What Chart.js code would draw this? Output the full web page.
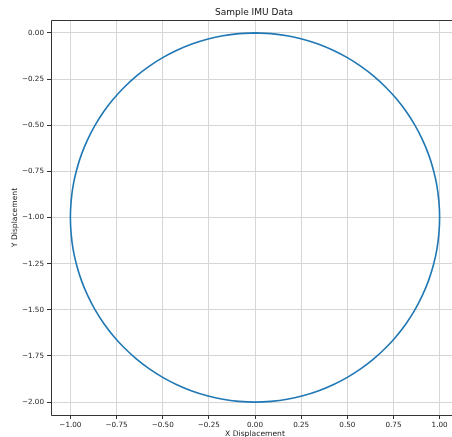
<!DOCTYPE html>
<html><head><meta charset="utf-8">
<script src="https://cdn.jsdelivr.net/npm/chart.js@4/dist/chart.umd.min.js"></script>
<style>
html,body{margin:0;padding:0;background:#fff;overflow:hidden;}
#wrap{width:470px;height:437px;position:relative;}
</style>
</head><body><div id="wrap"><canvas id="c"></canvas></div>
<script>
const chartTitle = 'Sample IMU Data';
const xAxisLabel = 'X Displacement';
const yAxisLabel = 'Y Displacement';
const circleX = [
  0.000, 0.087, 0.174, 0.259, 0.342, 0.423, 0.500, 0.574, 0.643, 0.707, 0.766, 0.819, 0.866, 0.906, 0.940, 0.966, 0.985, 0.996, 1.000,
  0.996, 0.985, 0.966, 0.940, 0.906, 0.866, 0.819, 0.766, 0.707, 0.643, 0.574, 0.500, 0.423, 0.342, 0.259, 0.174, 0.087, 0.000,
  -0.087, -0.174, -0.259, -0.342, -0.423, -0.500, -0.574, -0.643, -0.707, -0.766, -0.819, -0.866, -0.906, -0.940, -0.966, -0.985, -0.996, -1.000,
  -0.996, -0.985, -0.966, -0.940, -0.906, -0.866, -0.819, -0.766, -0.707, -0.643, -0.574, -0.500, -0.423, -0.342, -0.259, -0.174, -0.087, 0.000];
const circleY = [
  0.000, -0.004, -0.015, -0.034, -0.060, -0.094, -0.134, -0.181, -0.234, -0.293, -0.357, -0.426, -0.500, -0.577, -0.658, -0.741, -0.826, -0.913, -1.000,
  -1.087, -1.174, -1.259, -1.342, -1.423, -1.500, -1.574, -1.643, -1.707, -1.766, -1.819, -1.866, -1.906, -1.940, -1.966, -1.985, -1.996, -2.000,
  -1.996, -1.985, -1.966, -1.940, -1.906, -1.866, -1.819, -1.766, -1.707, -1.643, -1.574, -1.500, -1.423, -1.342, -1.259, -1.174, -1.087, -1.000,
  -0.913, -0.826, -0.741, -0.658, -0.577, -0.500, -0.426, -0.357, -0.293, -0.234, -0.181, -0.134, -0.094, -0.060, -0.034, -0.015, -0.004, 0.000];
const xTickValues = [-1.00, -0.75, -0.50, -0.25, 0.00, 0.25, 0.50, 0.75, 1.00];
const yTickValues = [0.00, -0.25, -0.50, -0.75, -1.00, -1.25, -1.50, -1.75, -2.00];

const points = circleX.map((x, i) => ({x: x, y: circleY[i]}));
const fmt = v => (v < -1e-9 ? '\u2212' : '') + Math.abs(v).toFixed(2);

Chart.defaults.font.family = "'DejaVu Sans', sans-serif";
Chart.defaults.color = '#222';

const framePlugin = {
  id: 'frame',
  afterDraw(chart) {
    const {ctx, chartArea: a} = chart;
    ctx.save();
    ctx.strokeStyle = '#333';
    ctx.lineWidth = 1;
    ctx.beginPath();
    ctx.rect(Math.round(a.left) + 0.5, Math.round(a.top) + 0.5,
             Math.round(a.right - a.left), Math.round(a.bottom - a.top));
    ctx.stroke();
    ctx.fillStyle = '#111';
    ctx.font = "9px 'DejaVu Sans', sans-serif";
    ctx.textAlign = 'center';
    ctx.textBaseline = 'middle';
    ctx.fillText(chartTitle, (a.left + a.right) / 2 - 1, 13);
    ctx.restore();
  }
};

new Chart(document.getElementById('c'), {
  type: 'scatter',
  data: {
    datasets: [{
      data: points,
      showLine: true,
      borderColor: '#1f77b4',
      borderWidth: 1.6,
      pointRadius: 0,
      tension: 0.33,
      fill: false
    }]
  },
  options: {
    responsive: true,
    maintainAspectRatio: false,
    animation: false,
    layout: {padding: {top: 20, left: 0, right: 11, bottom: 0}},
    plugins: {legend: {display: false}, tooltip: {enabled: false}, title: {display: false}},
    scales: {
      x: {
        type: 'linear',
        min: -1.105, max: 1.105,
        afterBuildTicks: s => { s.ticks = xTickValues.map(v => ({value: v})); },
        afterFit: s => { s.height = 22; },
        ticks: {callback: v => fmt(v), font: {size: 7.2}, padding: 2, maxRotation: 0, autoSkip: false, color: '#222'},
        grid: {color: '#d6d6d6', lineWidth: 1, tickLength: 4, tickColor: '#333', drawTicks: true},
        border: {display: false},
        title: {display: true, text: xAxisLabel, font: {size: 7.6, lineHeight: 1.2}, padding: {top: 0, bottom: -1.5}, color: '#222'}
      },
      y: {
        type: 'linear',
        min: -2.07, max: 0.07,
        afterBuildTicks: s => { s.ticks = yTickValues.map(v => ({value: v})); },
        afterFit: s => { s.width = 51; },
        ticks: {callback: v => fmt(v), font: {size: 7.2}, padding: 3, autoSkip: false, color: '#222'},
        grid: {color: '#d6d6d6', lineWidth: 1, tickLength: 4, tickColor: '#333', drawTicks: true},
        border: {display: false},
        title: {display: true, text: yAxisLabel, font: {size: 7.6, lineHeight: 1.2}, padding: {top: 10.5, bottom: 0}, color: '#222'}
      }
    }
  },
  plugins: [framePlugin]
});
</script>
</body></html>
